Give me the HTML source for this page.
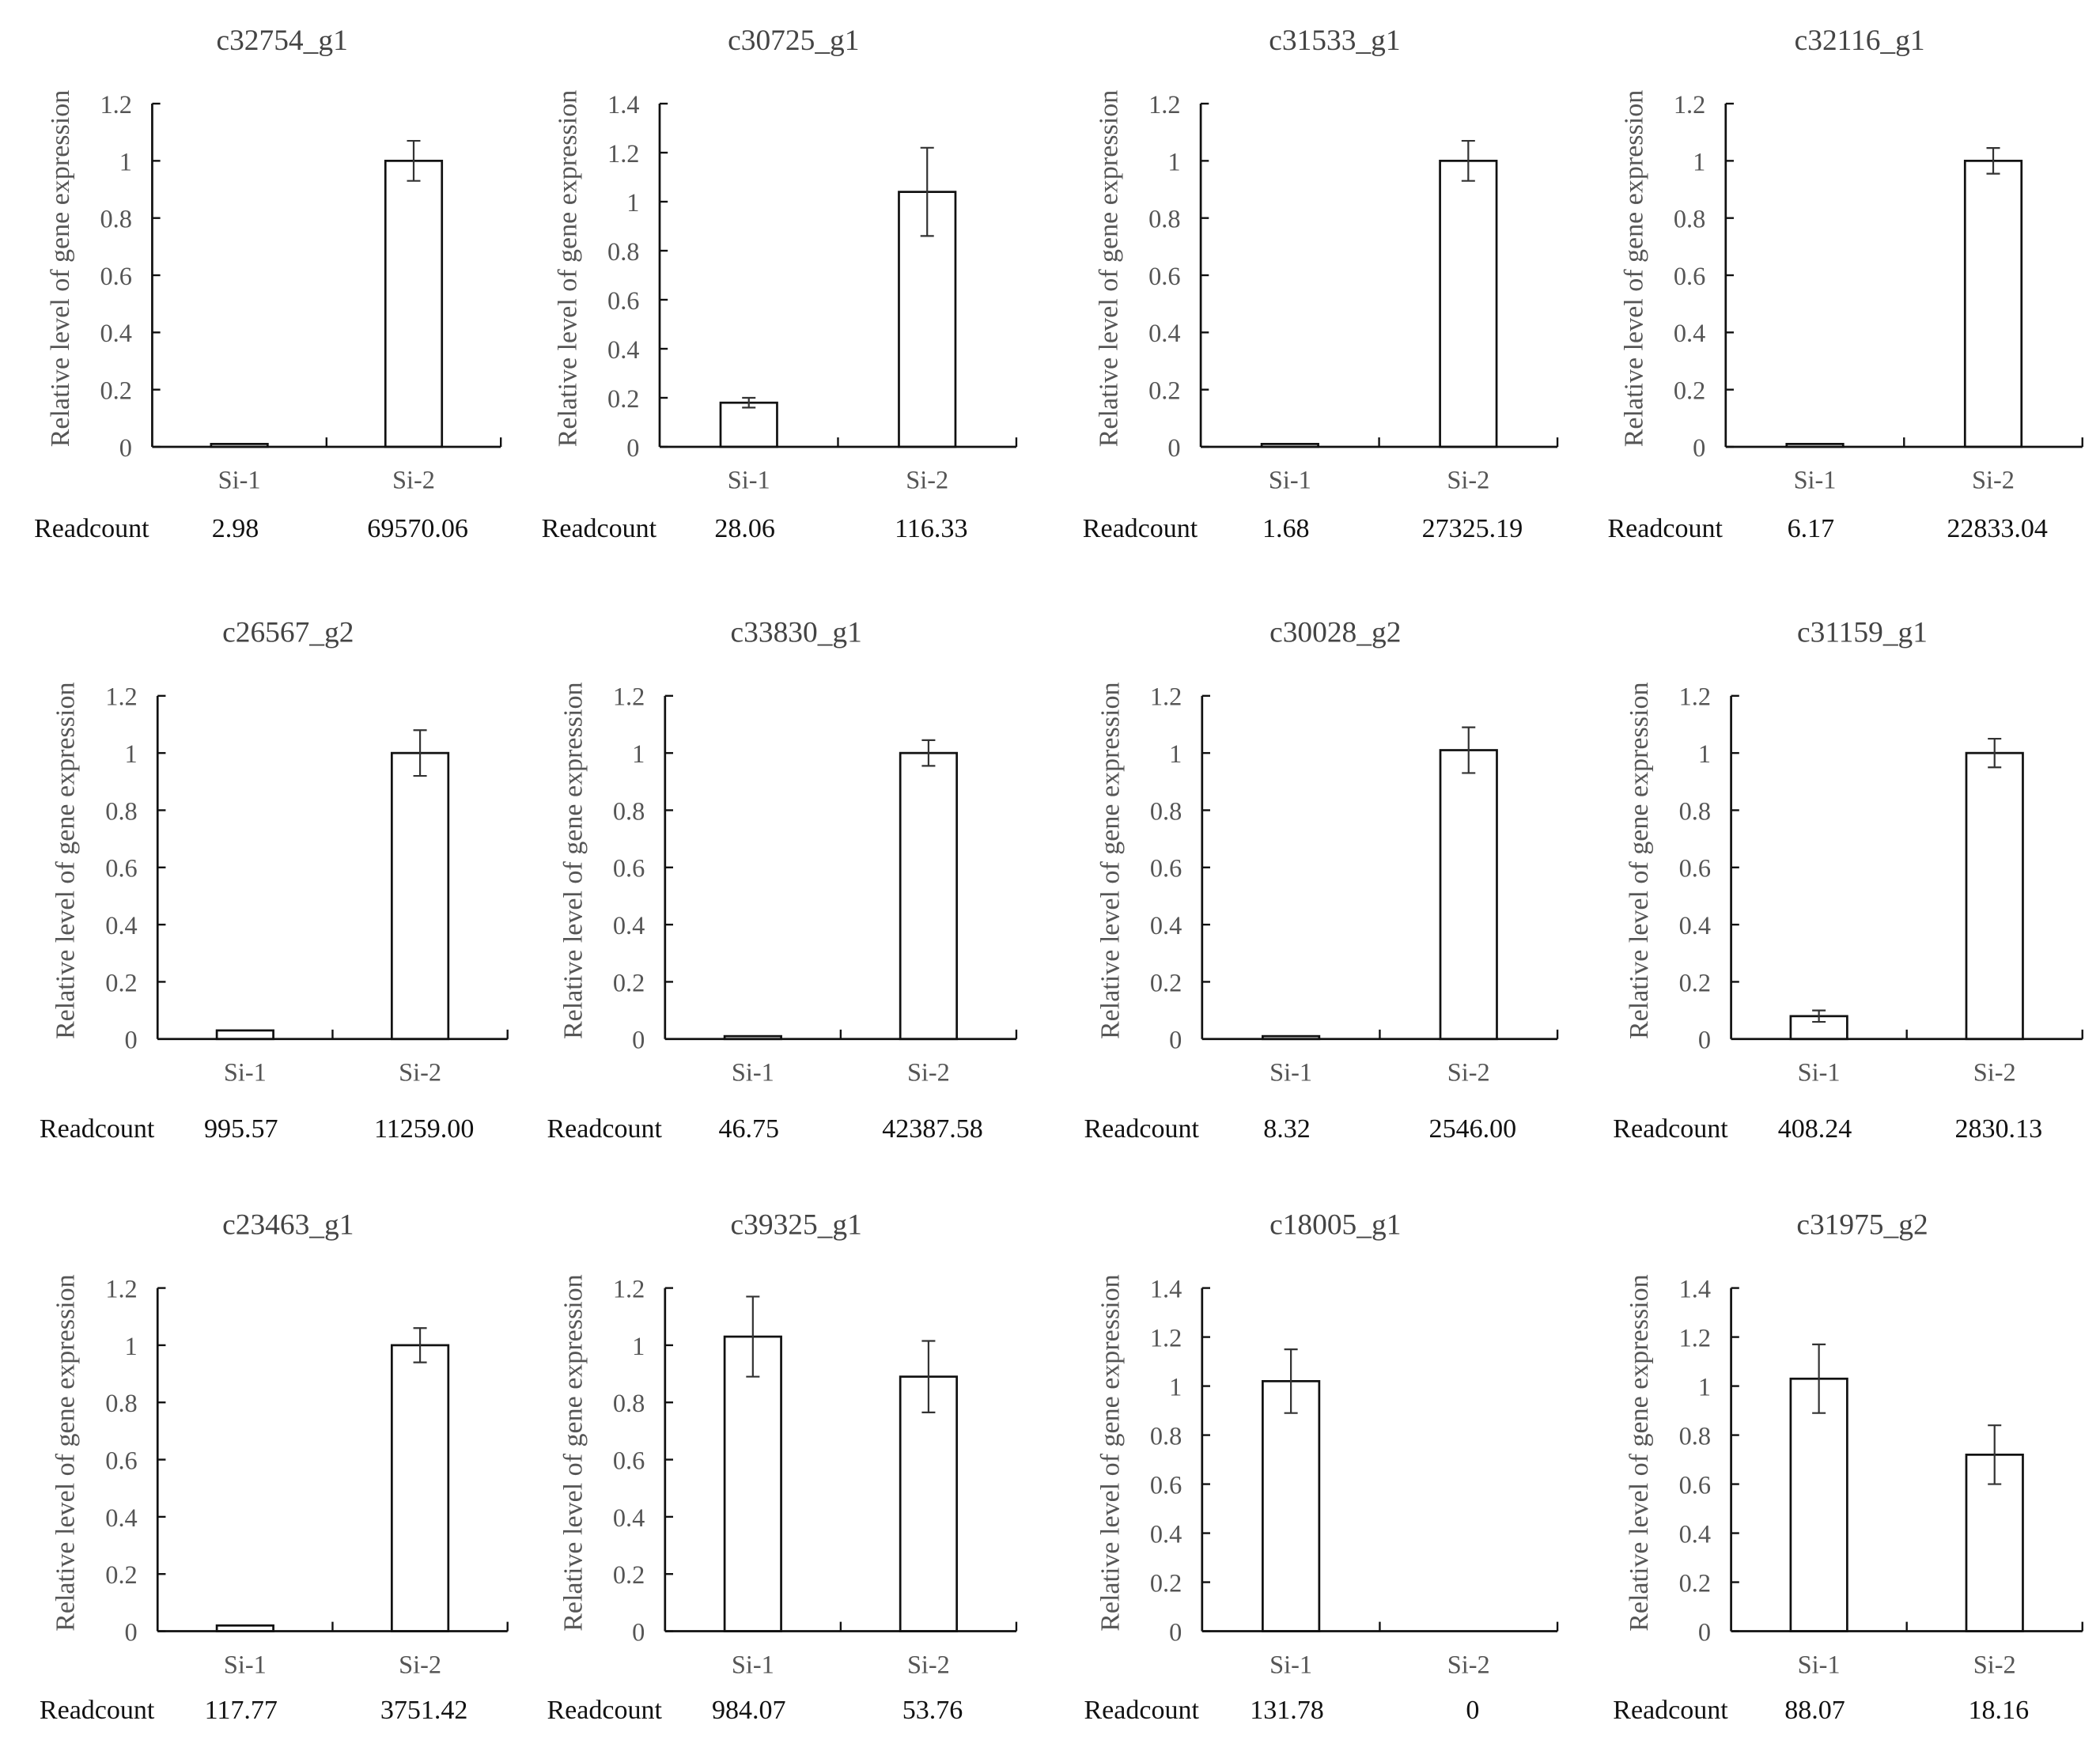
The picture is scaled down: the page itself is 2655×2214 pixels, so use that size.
<!DOCTYPE html>
<html><head><meta charset="utf-8"><style>
html,body{margin:0;padding:0;background:#fff;}
svg{display:block;}
text{font-family:"Liberation Serif",serif;}
</style></head><body>
<svg id="fig" width="2655" height="2214" viewBox="0 0 1560 1301" xmlns="http://www.w3.org/2000/svg"></svg>
<script>
const titles=["c32754_g1","c30725_g1","c31533_g1","c32116_g1","c26567_g2","c33830_g1","c30028_g2","c31159_g1","c23463_g1","c39325_g1","c18005_g1","c31975_g2"];
const categories=["Si-1","Si-2"];
const si1Values=[0.01,0.18,0.01,0.01,0.03,0.01,0.01,0.08,0.02,1.03,1.02,1.03];
const si2Values=[1.0,1.04,1.0,1.0,1.0,1.0,1.01,1.0,1.0,0.89,0,0.72];
const si1Errors=[0,0.02,0,0,0,0,0,0.02,0,0.14,0.13,0.14];
const si2Errors=[0.07,0.18,0.07,0.045,0.08,0.045,0.08,0.05,0.06,0.125,0,0.12];
const yMaxes=[1.2,1.4,1.2,1.2,1.2,1.2,1.2,1.2,1.2,1.2,1.4,1.4];
const si1Readcounts=["2.98","28.06","1.68","6.17","995.57","46.75","8.32","408.24","117.77","984.07","131.78","88.07"];
const si2Readcounts=["69570.06","116.33","27325.19","22833.04","11259.00","42387.58","2546.00","2830.13","3751.42","53.76","0","18.16"];

const svg=document.getElementById('fig');
const NS="http://www.w3.org/2000/svg";
function mk(tag,attrs,parent,txt){const e=document.createElementNS(NS,tag);for(const k in attrs)e.setAttribute(k,attrs[k]);if(txt!==undefined)e.textContent=txt;(parent||svg).appendChild(e);return e;}

const colAxisX=[[113,490,892,1282],[117,494,893,1286],[117,494,893,1286]];
const colAxisEnd=[[372,755,1157,1547],[377,755,1157,1547],[377,755,1157,1547]];
const rowTop=[77,517,957], rowBase=[332,772,1212], rowTitle=[37,477,917], rowSi=[363,803,1243], rowRead=[403,849,1281];

for(let i=0;i<12;i++){
  const r=Math.floor(i/4), c=i%4;
  const g=mk('g',{});
  
  
  const x0=colAxisX[r][c], x1=colAxisEnd[r][c], top=rowTop[r], base=rowBase[r];
  const ymax=yMaxes[i];
  const y=v=>base-(v/ymax)*(base-top);
  const xc=k=>x0+(x1-x0)*(k*2+1)/4;
  const t=mk('text',{x:(x0+x1)/2-33,y:rowTitle[r],'text-anchor':'middle','font-size':22,fill:'#444'},g,titles[i]);
  
  
  const ya=mk('line',{x1:x0,y1:top,x2:x0,y2:base,stroke:'#111','stroke-width':1.6},g);
  
  
  const n=Math.round(ymax/0.2);
  for(let k=0;k<=n;k++){
    const v=k*0.2, yy=y(v);
    mk('line',{x1:x0,y1:yy,x2:x0+6,y2:yy,stroke:'#111','stroke-width':1.4},g);
    const lab=+(v.toFixed(1));
    const tl=mk('text',{x:x0-15,y:yy+7,'text-anchor':'end','font-size':19,fill:'#555'},g,String(lab));
    
    
  }
  const yl=mk('text',{x:0,y:0,'text-anchor':'middle','font-size':20,fill:'#555',transform:`translate(${x0-62},${(top+base)/2-5}) rotate(-90)`},g,'Relative level of gene expression');
  
  
  const vals=[si1Values[i],si2Values[i]], errs=[si1Errors[i],si2Errors[i]];
  for(let k=0;k<2;k++){
    const cx=xc(k), v=vals[k];
    if(v>0){
      const b=mk('rect',{x:cx-21,y:y(v),width:42,height:base-y(v),fill:'#fff',stroke:'#111','stroke-width':1.6},g);
      
      
    }
    if(errs[k]>0){
      const e=errs[k];
      const eb=mk('path',{d:`M${cx},${y(v+e)}V${y(v-e)}M${cx-5},${y(v+e)}H${cx+5}M${cx-5},${y(v-e)}H${cx+5}`,stroke:'#333','stroke-width':1.3,fill:'none'},g);
      
      
    }
    const cl=mk('text',{x:cx,y:rowSi[r],'text-anchor':'middle','font-size':19,fill:'#555'},g,categories[k]);
    
    
    const rc=mk('text',{x:cx+(k?3:-3),y:rowRead[r]-4,'text-anchor':'middle','font-size':20,fill:'#111'},g,k?si2Readcounts[i]:si1Readcounts[i]);
    
    
  }
  const xa=mk('line',{x1:x0,y1:base,x2:x1,y2:base,stroke:'#111','stroke-width':1.6},g);
  
  
  [(x0+x1)/2,x1].forEach(tx=>mk('line',{x1:tx,y1:base,x2:tx,y2:base-7,stroke:'#111','stroke-width':1.4},g));
  const rl=mk('text',{x:x0-45,y:rowRead[r]-4,'text-anchor':'middle','font-size':20,fill:'#111'},g,'Readcount');
  
  
}
</script>
</body></html>
